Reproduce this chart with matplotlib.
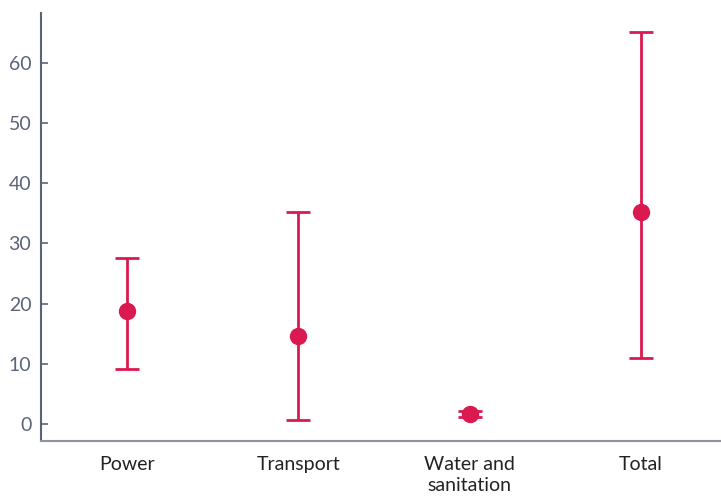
import matplotlib
matplotlib.use("Agg")
import matplotlib.pyplot as plt

categories = ["Power", "Transport", "Water and\nsanitation", "Total"]
central = [18.8, 14.7, 1.7, 35.3]
lower = [9.2, 0.7, 1.2, 11.0]
upper = [27.5, 35.2, 2.2, 65.2]
yticks = [0, 10, 20, 30, 40, 50, 60]

red = "#D9194F"
axis_col = "#5B6377"

plt.rcParams["font.family"] = ["Lato", "DejaVu Sans"]

fig = plt.figure(figsize=(7.21, 4.98), dpi=100)
ax = fig.add_axes([41 / 721, 57 / 498, 680 / 721, 428 / 498])

x = list(range(len(categories)))
yerr = [[c - l for c, l in zip(central, lower)],
        [u - c for c, u in zip(central, upper)]]
ax.errorbar(x, central, yerr=yerr, fmt="o", color=red, ecolor=red,
            markersize=11.5, elinewidth=2.0, capsize=8.3, capthick=2.0)

ax.set_xlim(-0.502, 3.467)
ax.set_ylim(-2.83, 68.3)
ax.set_xticks(x)
ax.set_xticklabels(categories, fontsize=14, color="#222222", linespacing=1.25)
ax.set_yticks(yticks)
ax.set_yticklabels([str(v) for v in yticks], fontsize=14, color=axis_col)

ax.tick_params(axis="x", length=0, pad=11)
ax.tick_params(axis="y", direction="in", length=5, width=1.2, color=axis_col, pad=7)

for s in ["top", "right"]:
    ax.spines[s].set_visible(False)
ax.spines["left"].set_color(axis_col)
ax.spines["left"].set_linewidth(1.5)
ax.spines["bottom"].set_color("#8E939F")
ax.spines["bottom"].set_linewidth(1.5)

fig.savefig("out.png", dpi=100)
